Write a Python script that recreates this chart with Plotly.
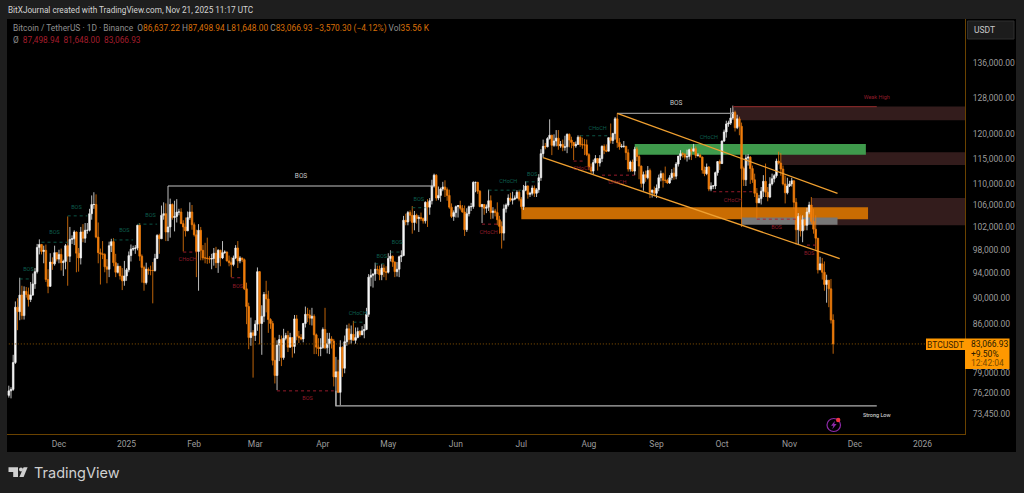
import pandas as pd
import plotly.graph_objects as go

# ---- Daily candles, thousands of USDT, one row per month (Nov 8 2024 .. Nov 21 2025) ----
first_open = 75.9
close = [
 76.5,76.7,80.4,88.6,87.9,90.5,87.3,91.1,90.6,89.8,90.5,92.3,94.3,98.4,98.9,97.7,97.9,93.0,91.9,95.9,95.6,97.5,96.4,
 97.2,95.8,96.0,98.7,96.9,99.8,99.9,101.1,97.4,96.6,101.1,100.0,101.4,101.4,104.4,106.1,106.1,100.2,97.5,97.3,97.2,95.1,94.7,98.7,99.4,95.8,94.2,95.2,93.6,92.8,93.6,
 94.6,97.0,98.1,98.2,98.3,102.3,96.9,95.0,92.5,94.7,94.5,94.5,94.5,96.5,100.5,99.9,104.1,104.4,101.1,102.0,106.1,103.7,103.9,104.7,104.7,102.6,102.0,101.3,103.7,104.7,102.4,
 100.6,97.7,101.4,97.9,96.6,96.6,96.5,96.4,96.5,97.4,95.8,97.9,96.6,97.5,97.6,96.1,95.8,95.5,96.6,98.3,96.1,96.6,96.3,91.5,88.7,84.0,84.7,84.3,
 86.0,94.3,86.1,87.2,90.6,89.9,86.7,86.1,80.7,78.6,82.9,83.7,81.1,83.9,84.3,82.6,84.0,82.7,86.8,84.2,84.0,83.8,86.1,87.5,87.4,86.9,87.2,84.4,82.6,82.4,82.5,
 85.2,82.5,83.1,83.8,83.5,78.4,79.1,76.3,82.6,79.6,83.4,85.3,83.7,84.5,83.6,84.0,84.9,84.4,85.0,85.2,87.5,93.4,93.7,93.9,94.7,94.6,93.8,94.9,94.3,94.2,
 96.5,96.9,95.9,94.3,94.7,96.8,97.0,103.2,102.9,104.6,104.1,102.8,104.1,103.5,103.7,103.5,103.1,106.5,105.6,106.8,109.6,111.7,107.3,107.8,109.0,109.4,108.9,107.8,105.6,103.9,104.6,
 105.7,105.9,105.4,104.7,101.5,104.4,105.7,105.7,110.3,110.3,108.6,105.7,106.1,105.4,105.6,106.8,104.6,104.9,104.6,103.3,102.1,100.9,105.3,106.0,107.3,106.9,107.1,107.3,108.4,107.1,
 105.7,108.8,109.6,108.0,108.2,109.2,108.2,108.9,111.2,116.0,117.5,117.4,119.1,119.8,117.7,118.6,119.2,117.6,117.9,117.3,117.4,120.0,118.8,118.3,117.6,117.9,119.4,117.9,117.8,117.8,115.8,
 113.3,112.5,114.2,115.0,114.1,115.0,117.5,116.7,116.5,119.3,118.7,120.2,123.3,118.3,117.4,117.5,117.5,116.2,112.9,114.3,112.5,116.9,115.4,113.5,110.1,111.8,111.2,112.6,108.4,108.8,108.2,
 109.2,111.2,112.0,110.7,110.7,110.2,111.2,112.1,111.5,113.9,115.5,116.0,115.9,115.3,115.4,116.8,116.5,117.0,115.6,115.7,115.3,112.7,112.0,113.3,109.0,109.6,109.6,112.2,114.4,114.0,
 118.6,120.5,122.2,122.4,123.5,124.7,121.4,123.3,121.7,113.0,110.8,115.1,115.3,113.0,110.8,108.2,106.4,107.2,108.6,110.5,108.4,107.5,110.0,111.0,111.6,114.5,114.1,112.9,110.0,108.3,109.6,
 110.0,110.6,106.5,101.5,103.9,101.3,103.3,102.3,104.7,106.0,103.0,101.6,100.0,94.6,95.6,94.2,92.2,92.9,91.5,86.63722,83.06693,
]
high = [
 77.2,77.0,81.5,89.5,90.0,93.3,92.0,91.9,91.8,91.7,92.6,94.0,94.9,99.0,99.8,99.0,98.7,98.9,94.7,97.4,96.7,98.7,97.5,
 98.0,98.2,96.3,99.0,103.9,102.0,100.5,101.4,101.2,98.3,102.0,102.5,102.7,102.7,105.3,107.8,108.4,108.0,102.8,98.2,99.5,97.4,96.4,99.4,99.9,100.0,97.3,95.7,95.2,94.9,96.1,
 94.9,97.7,98.9,98.7,98.8,102.4,102.7,97.2,95.3,95.8,95.0,95.3,95.9,97.3,100.7,100.8,105.9,106.5,106.3,109.6,107.2,106.3,106.8,107.1,105.3,105.4,103.2,103.7,104.8,106.5,106.0,
 102.8,101.5,102.5,102.0,98.8,99.2,100.1,96.9,97.3,98.3,98.5,98.1,98.0,99.5,97.9,97.7,97.0,96.7,97.0,98.8,99.5,96.9,96.6,96.5,92.5,89.3,87.0,85.1,
 86.6,95.0,94.4,88.9,91.0,92.8,91.2,86.9,86.5,84.0,83.6,84.4,84.3,85.3,84.7,85.0,84.7,84.0,87.4,87.4,85.0,84.5,86.2,88.7,88.5,88.2,88.5,87.5,84.6,83.9,83.9,
 85.5,88.5,84.7,84.7,84.2,83.8,81.2,80.8,83.6,82.7,84.3,85.9,86.1,85.8,86.5,85.5,85.5,85.1,85.7,86.0,88.5,93.9,94.7,94.0,95.8,95.3,95.3,95.6,95.5,95.2,
 97.4,97.9,97.0,96.0,95.9,97.0,97.9,104.0,104.4,104.9,105.0,105.8,104.9,104.4,104.1,104.6,103.7,106.7,107.1,107.3,110.8,112.0,111.9,109.5,109.3,110.4,110.7,109.3,108.9,106.3,105.0,
 105.9,106.0,106.8,106.0,105.9,105.4,105.9,106.4,110.5,110.4,110.4,108.8,106.2,106.2,106.1,108.9,107.8,105.6,105.3,106.5,104.0,103.0,106.1,106.3,108.0,108.3,108.5,107.8,108.8,108.8,
 107.5,109.8,110.5,109.7,108.5,109.7,109.7,109.2,111.9,116.9,118.9,118.2,119.4,123.2,119.9,120.0,120.9,120.9,118.6,118.9,119.7,120.2,120.2,119.5,118.4,118.5,119.8,119.8,119.3,119.0,118.9,
 116.1,114.0,114.8,115.7,115.1,115.7,117.7,117.9,117.9,119.3,122.3,120.3,123.7,124.5,119.2,118.0,118.6,117.6,116.9,114.6,114.8,117.4,117.4,115.8,113.6,112.4,112.6,113.5,113.0,108.9,109.5,
 109.9,111.8,112.6,112.2,113.4,111.0,111.7,112.9,113.2,114.3,115.4,116.7,116.3,116.1,116.8,117.0,117.3,118.0,117.5,116.1,116.0,115.4,113.4,114.0,113.5,110.3,109.8,112.4,114.5,114.8,
 118.7,121.0,122.9,122.9,125.7,126.2,125.1,124.2,123.8,122.5,113.4,115.8,115.9,115.5,113.6,112.0,109.2,107.9,109.4,111.7,114.0,109.4,111.3,112.0,111.9,115.0,116.4,116.1,113.6,111.6,111.2,
 110.6,111.2,110.7,107.3,104.5,104.2,104.1,103.4,105.5,106.6,107.5,105.3,104.1,99.9,96.8,96.6,96.0,93.8,92.6,93.1,87.49894,
]
low = [
 75.6,75.5,76.5,80.2,85.1,86.6,86.7,86.7,90.1,88.7,89.4,90.4,91.5,94.0,97.2,97.2,95.7,92.6,90.8,91.8,94.6,95.3,96.0,
 95.7,94.5,93.6,94.7,92.0,95.9,99.0,98.8,94.2,94.3,95.5,99.3,99.2,100.8,101.2,103.3,105.3,100.0,95.7,92.2,96.4,94.2,92.4,93.4,97.6,95.2,93.4,94.0,93.0,91.3,92.0,
 92.8,94.2,96.0,97.8,97.3,97.9,96.1,92.5,91.2,92.2,93.8,93.7,89.2,94.3,96.5,97.3,99.9,103.3,99.5,99.5,100.1,103.3,101.2,102.8,104.1,102.5,97.7,100.3,101.3,103.3,101.5,
 100.3,93.4,91.2,96.2,96.2,95.7,95.6,95.7,94.7,95.3,94.9,94.1,95.2,96.4,97.3,96.0,95.2,93.4,95.2,96.4,94.9,95.7,95.9,91.3,86.0,82.3,82.8,78.3,
 83.5,85.0,83.0,81.5,86.3,87.8,84.7,85.3,80.0,77.5,76.6,80.6,79.9,80.8,83.6,81.9,82.5,81.1,81.7,83.6,83.2,83.6,83.3,85.5,86.3,85.9,85.8,81.6,81.6,81.3,81.3,
 82.4,82.3,81.7,81.6,82.4,77.1,74.5,76.2,74.6,78.4,78.9,82.8,83.0,83.1,83.6,83.1,83.9,84.1,84.7,83.9,85.1,87.1,91.9,91.7,92.8,93.9,92.9,92.9,93.4,92.9,
 94.0,96.0,95.1,93.4,93.5,93.4,95.9,96.9,102.3,102.3,103.0,100.8,101.4,102.6,101.1,103.1,102.6,102.6,102.0,104.2,106.1,109.3,106.8,106.9,106.6,108.6,107.5,106.8,105.3,103.6,103.1,
 103.7,103.7,105.0,104.6,100.4,101.1,103.9,104.9,105.3,108.4,108.1,105.6,102.7,104.2,104.5,104.9,103.4,103.5,103.9,102.3,100.8,98.2,99.6,104.6,105.7,106.6,106.1,106.9,107.2,106.7,
 105.3,105.1,108.6,107.2,107.5,107.8,107.5,107.5,108.3,110.6,115.2,116.9,117.3,118.9,115.7,117.4,117.5,116.8,117.2,116.5,116.6,116.1,117.3,117.1,114.7,117.2,117.8,117.4,117.0,115.7,115.5,
 112.7,112.0,111.9,114.0,112.6,113.4,114.3,115.9,116.3,116.5,118.1,118.0,118.9,117.2,116.8,117.2,117.2,114.7,112.4,112.4,112.4,111.7,114.5,110.9,109.3,108.7,110.4,110.9,107.3,107.4,107.6,
 107.3,108.6,110.5,109.3,110.2,110.0,110.0,110.7,110.8,110.9,113.4,114.7,115.2,114.8,114.4,114.8,114.7,116.5,115.1,115.4,115.2,112.0,111.5,111.7,108.6,108.6,109.0,109.0,111.6,112.7,
 113.9,118.4,119.3,121.6,122.0,123.1,120.6,121.1,119.8,102.0,109.6,109.6,113.6,110.0,110.2,107.5,103.5,106.4,106.1,107.5,107.5,106.7,107.3,109.7,110.3,111.2,113.8,111.6,109.7,106.3,108.0,
 109.4,109.5,105.3,98.9,98.9,100.3,99.3,101.4,101.4,104.3,102.5,100.8,98.0,94.0,94.6,93.0,91.2,89.3,88.6,86.1,81.648,
]

# ---- Price axis ----
tick_prices = [136000,128000,120000,115000,110000,106000,102000,98000,94000,90000,86000,79000,76200,73450]
tick_texts = ["136,000.00","128,000.00","120,000.00","115,000.00","110,000.00","106,000.00","102,000.00",
              "98,000.00","94,000.00","90,000.00","86,000.00","79,000.00","76,200.00","73,450.00"]
last_price = 83066.93

# ---- Time axis ----
time_ticks = ["2024-12-01","2025-01-01","2025-02-01","2025-03-01","2025-04-01","2025-05-01","2025-06-01",
              "2025-07-01","2025-08-01","2025-09-01","2025-10-01","2025-11-01","2025-12-01","2026-01-01"]
time_labels = ["Dec","2025","Feb","Mar","Apr","May","Jun","Jul","Aug","Sep","Oct","Nov","Dec","2026"]
time_range = ["2024-11-07 04:00","2026-01-20 11:00"]

# ---- Structure lines ----
bos1_dates = ["2025-01-20","2025-05-22"]; bos1_prices = [109600,109600]
bos2_dates = ["2025-08-14","2025-10-06"]; bos2_prices = [124500,124500]
strong_dates = ["2025-04-07","2025-04-07","2025-12-11"]; strong_prices = [76500,74500,74500]
chan_up_dates = ["2025-08-14","2025-11-23"]; chan_up_prices = [124500,108200]
chan_lo_dates = ["2025-07-11","2025-11-24"]; chan_lo_prices = [115200,96500]

# ---- Dashed swing levels ----
green_start = ["2024-11-13","2024-11-23","2024-12-05","2024-12-26","2025-01-06","2025-04-15","2025-04-25","2025-05-02","2025-05-12","2025-06-16","2025-07-03","2025-07-28"]
green_end   = ["2024-11-18","2024-12-05","2024-12-14","2025-01-04","2025-01-15","2025-04-20","2025-04-30","2025-05-07","2025-05-18","2025-07-01","2025-07-09","2025-08-11"]
green_price = [93100,99300,104000,99700,102500,86300,95600,97600,105500,108800,110400,119700]
red_start = ["2025-01-27","2025-02-18","2025-03-11","2025-06-13","2025-07-25","2025-08-07","2025-09-27","2025-10-17","2025-11-09"]
red_end   = ["2025-02-02","2025-02-23","2025-04-06","2025-06-20","2025-07-30","2025-08-22","2025-10-15","2025-11-04","2025-11-14"]
red_price = [97600,93300,76500,102500,114500,111700,108500,103400,98800]

# ---- Small labels ----
green_label_text = ["BOS","BOS","BOS","BOS","BOS","CHoCH","BOS","BOS","BOS","CHoCH","BOS","CHoCH","CHoCH"]
green_label_date = ["2024-11-17","2024-11-29","2024-12-09","2024-12-31","2025-01-12","2025-04-17","2025-04-28","2025-05-05","2025-05-15","2025-06-25","2025-07-06","2025-08-05","2025-09-25"]
green_label_price = [94600,100900,105500,101300,104000,87600,96900,99200,107100,110400,111900,121300,119400]
red_label_text = ["CHoCH","BOS","BOS","CHoCH","CHoCH","CHoCH","CHoCH","BOS","BOS"]
red_label_date = ["2025-01-29","2025-02-21","2025-03-25","2025-06-16","2025-07-29","2025-08-14","2025-10-06","2025-10-26","2025-11-10"]
red_label_price = [96300,91800,75400,100900,112900,110200,106900,101800,97400]
white_label_text = ["BOS","BOS"]
white_label_date = ["2025-03-22","2025-09-10"]
white_label_price = [111500,126600]

# ---- Zones ----
zones_dark = [("2025-10-06","2026-01-21",123000,126000),("2025-10-28","2026-01-21",113700,116300),("2025-11-11","2026-01-21",102300,107300)]
zone_green = ("2025-08-22","2025-12-06",115800,118000)
zone_orange = ("2025-07-01","2025-12-07",103400,105600)
zone_grey = ("2025-10-10","2025-11-23",102400,103700)
weak_dates = ["2025-10-06","2025-12-11"]; weak_prices = [126000,126000]

ORANGE = "#f57f0a"; TEAL = "#0d5f4e"; RED = "#8f1c2a"; GOLD = "#f0a030"
AXIS = "#6a4200"; TXT = "#9c9c9c"

dates = pd.date_range("2024-11-08", periods=len(close), freq="D")
opens = [first_open] + close[:-1]
scale = lambda a: [v * 1000 for v in a]

W, H = 1024, 493
L, R, T, B = 7, 59, 19, 59
PW, PH = W - L - R, H - T - B
px = lambda x: (x - L) / PW
py = lambda y: 1 - (y - T) / PH

fig = go.Figure()
fig.add_trace(go.Candlestick(
    x=dates, open=scale(opens), high=scale(high), low=scale(low), close=scale(close),
    increasing=dict(fillcolor="#ffffff", line=dict(color="#ededed", width=0.8)),
    decreasing=dict(fillcolor=ORANGE, line=dict(color="#ee7c0c", width=0.8)),
    whiskerwidth=0, showlegend=False, hoverinfo="skip"))

def line(xs, ys, color, width=1, dash=None):
    fig.add_trace(go.Scatter(x=xs, y=ys, mode="lines", showlegend=False, hoverinfo="skip",
                             line=dict(color=color, width=width, dash=dash)))

def labels(ts, xs, ys, color, size=5.5):
    fig.add_trace(go.Scatter(x=xs, y=ys, text=ts, mode="text", showlegend=False, hoverinfo="skip",
                             textposition="middle center", textfont=dict(color=color, size=size, family="Roboto")))

line(bos1_dates, bos1_prices, "#c4c4c4", 1.2)
line(bos2_dates, bos2_prices, "#8f8f8f", 1.2)
line(strong_dates, strong_prices, "#b0b0b0", 1.2)
line(chan_up_dates, chan_up_prices, GOLD, 1.3)
line(chan_lo_dates, chan_lo_prices, GOLD, 1.3)
line(weak_dates, weak_prices, "#7e2626", 1.2)
for a, b, p in zip(green_start, green_end, green_price):
    line([a, b], [p, p], TEAL, 0.9, "3px,3px")
for a, b, p in zip(red_start, red_end, red_price):
    line([a, b], [p, p], "#a81e30", 0.9, "3px,3px")
line([dates[0], time_range[1]], [last_price, last_price], "#8a5500", 1, "1px,2px")
labels(green_label_text, green_label_date, green_label_price, TEAL)
labels(red_label_text, red_label_date, red_label_price, RED)
labels(white_label_text, white_label_date, white_label_price, "#c8c8c8", 6.5)
labels(["Weak High"], ["2025-12-11"], [127900], RED, 5.5)
labels(["Strong Low"], ["2025-12-11"], [73200], "#e0e0e0", 5.5)

shapes = []
def rect_data(z, fill):
    shapes.append(dict(type="rect", xref="x", yref="y", x0=z[0], x1=z[1], y0=z[2], y1=z[3],
                       fillcolor=fill, line=dict(width=0), layer="below"))

# pane and price-axis button
shapes.append(dict(type="rect", xref="paper", yref="paper", x0=px(7), x1=px(1016), y0=py(452), y1=py(19),
                   fillcolor="#000000", line=dict(width=0), layer="below"))
shapes.append(dict(type="rect", xref="paper", yref="paper", x0=px(967.5), x1=px(1014), y0=py(39), y1=py(21),
                   fillcolor="#1c1c1c", line=dict(width=1, color="#2e2e2e"), layer="above"))
for z in zones_dark:
    rect_data(z, "#331c1c")
rect_data(zone_green, "#3f9a4c")
rect_data(zone_orange, "#c96c02")
rect_data(zone_grey, "#777777")

# price tags
shapes.append(dict(type="rect", xref="paper", yref="paper", x0=px(926), x1=px(965), y0=py(350), y1=py(338.5),
                   fillcolor="#ff9800", line=dict(width=0), layer="above"))
shapes.append(dict(type="rect", xref="paper", yref="paper", x0=px(965), x1=px(1009.5), y0=py(369), y1=py(338.5),
                   fillcolor="#ff9800", line=dict(width=0), layer="above"))

# lightning badge
def pth(pts, fill):
    d = "M " + " L ".join(f"{px(x)} {py(y)}" for x, y in pts) + " Z"
    shapes.append(dict(type="path", xref="paper", yref="paper", path=d, fillcolor=fill, line=dict(width=0), layer="above"))
shapes.append(dict(type="circle", xref="paper", yref="paper", x0=px(827), x1=px(840.5), y0=py(431.5), y1=py(418.5),
                   line=dict(color="#8e2aa8", width=1.2), layer="above"))
pth([(835,420.8),(831,425.8),(833.3,425.8),(832.3,429.2),(836.6,424),(834.2,424)], "#8e2aa8")
shapes.append(dict(type="circle", xref="paper", yref="paper", x0=px(836), x1=px(840.4), y0=py(422.2), y1=py(417.8),
                   fillcolor="#f23645", line=dict(width=0), layer="above"))

# TradingView logo
LOGO = "#d0d0d0"
pth([(8.5,467.3),(18,467.3),(18,477),(13.2,477),(13.2,472),(8.5,472)], LOGO)
pth([(23.6,467.3),(27.6,467.3),(23.6,477),(19.4,477)], LOGO)
shapes.append(dict(type="circle", xref="paper", yref="paper", x0=px(19), x1=px(23), y0=py(471.5), y1=py(467.5),
                   fillcolor=LOGO, line=dict(width=0), layer="above"))

def note(x, y, text, size=8.5, color=TXT, anchor="left", family="Roboto"):
    return dict(x=px(x), y=py(y), xref="paper", yref="paper", text=text, showarrow=False, xanchor=anchor,
                yanchor="middle", borderpad=0, font=dict(size=size, color=color, family=family))

OC = '<span style="color:#d96f08">%s</span>'
header = ("Bitcoin / TetherUS · 1D · Binance  O" + OC % "86,637.22" + " H" + OC % "87,498.94" + " L" + OC % "81,648.00"
          + " C" + OC % "83,066.93" + " " + OC % "−3,570.30 (−4.12%)" + " Vol" + OC % "35.56 K")
DR = '<span style="color:#a31d2c">%s</span>'
line2 = "Ø  " + DR % "87,498.94" + "  " + DR % "81,648.00" + "  " + DR % "83,066.93"

annotations = [
    note(7, 10, "BitXJournal created with TradingView.com, Nov 21, 2025 11:17 UTC", 8.2, "#d4d4d4"),
    note(12, 28.5, header, 8.4, "#8f8f8f"),
    note(12, 40, line2, 8.3, "#8f8f8f"),
    note(973, 30, "USDT", 8.5, "#c8c8c8"),
    note(945.5, 344.5, "BTCUSDT", 8.5, "#3a2400", "center"),
    note(970, 344, "83,066.93", 8.5, "#2a1a00"),
    note(970, 353.5, "+9.50%", 8.5, "#2a1a00"),
    note(970, 363, "12:42:04", 8.5, "#7a4a00"),
    note(33, 472.5, "TradingView", 14.5, "#d0d0d0", "left", "Inter"),
]

fig.update_layout(
    width=W, height=H, margin=dict(l=L, r=R, t=T, b=B, pad=0),
    paper_bgcolor="#1e1e1e", plot_bgcolor="rgba(0,0,0,0)", showlegend=False, boxgap=0.0,
    shapes=shapes, annotations=annotations,
    xaxis=dict(type="date", range=time_range, rangeslider=dict(visible=False), showgrid=False, zeroline=False,
               tickmode="array", tickvals=time_ticks, ticktext=time_labels, ticks="outside", ticklen=2,
               tickcolor="rgba(0,0,0,0)", tickfont=dict(size=8.5, color=TXT, family="Roboto"),
               showline=True, linecolor=AXIS, linewidth=1),
    yaxis=dict(type="log", side="right", range=[4.85079, 5.16708], showgrid=False, zeroline=False,
               tickmode="array", tickvals=tick_prices, ticktext=tick_texts, ticks="outside", ticklen=5,
               tickcolor="rgba(0,0,0,0)", tickfont=dict(size=8.5, color=TXT, family="Roboto"),
               showline=True, linecolor=AXIS, linewidth=1),
)

fig.write_html("out.html", config=dict(displayModeBar=False),
               post_script="document.body.style.margin='0';document.body.style.background='#1e1e1e';document.body.style.overflow='hidden';")
